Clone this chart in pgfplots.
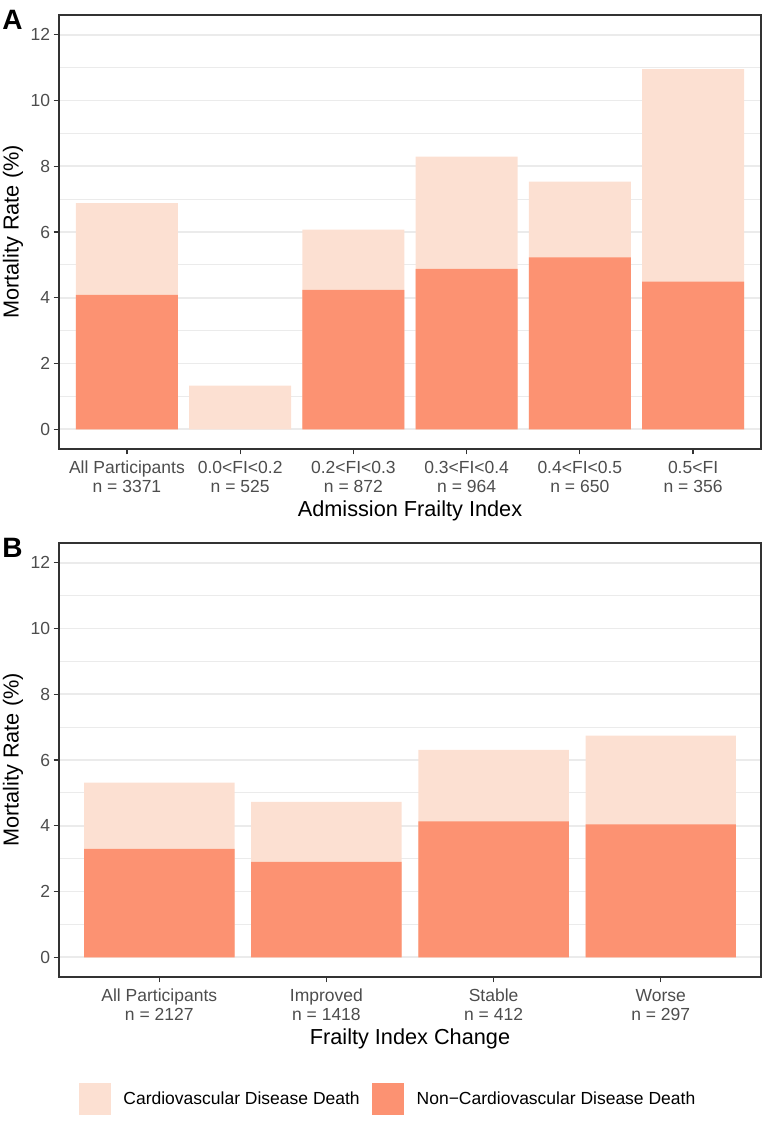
\documentclass[border=0pt]{standalone}
\usepackage{pgfplots}
\pgfplotsset{compat=1.18}
\usepackage{fontspec}
\setmainfont{Liberation Sans}
\definecolor{lightc}{RGB}{252,224,210}
\definecolor{darkc}{RGB}{252,146,114}
\definecolor{gridc}{RGB}{235,235,235}
\definecolor{framec}{RGB}{51,51,51}
\definecolor{tickc}{RGB}{77,77,77}
\pgfplotsset{
  panel/.style={
    scale only axis, width=702pt, height=434pt,
    anchor=south west,
    xmin=-0.6, ymin=-0.6, ymax=12.6,
    axis line style={framec, line width=1.2pt},
    ytick={0,2,...,12}, minor ytick={1,3,...,11},
    ymajorgrids, yminorgrids,
    major grid style={gridc, line width=1.6pt},
    minor grid style={gridc, line width=0.8pt},
    tick align=outside, major tick length=5.4pt, minor tick length=0pt,
    tick style={framec, line width=1.2pt},
    xtick pos=left, ytick pos=left,
    /pgf/number format/assume math mode=true,
    ticklabel style={font=\fontsize{17.5}{18.5}\selectfont, text=tickc},
    xticklabel style={align=center, text height=31.1pt, yshift=-3pt},
    xtick={0,...,5},
    every axis y label/.style={at={(axis description cs:-0.06553,0.5)}, rotate=90, anchor=center, font=\fontsize{21.7}{24}\selectfont, text=black},
    every axis x label/.style={at={(axis description cs:0.5,-0.1417)}, anchor=center, font=\fontsize{21.7}{24}\selectfont, text=black},
    ylabel={Mortality Rate (\%)},
  }
}
\begin{document}
\begin{tikzpicture}
\useasboundingbox (0,0) rectangle (762pt,1127pt);
% Panel A
\begin{axis}[panel, at={(59pt,678pt)}, xmax=5.6,
  xticklabels={{All Participants\\n = 3371},{0.0<FI<0.2\\n = 525},{0.2<FI<0.3\\n = 872},{0.3<FI<0.4\\n = 964},{0.4<FI<0.5\\n = 650},{0.5<FI\\n = 356}},
  xlabel={Admission Frailty Index}]
\addplot[ybar, bar width=0.9, bar shift=0pt, fill=lightc, draw=none, forget plot]
  coordinates {(0,6.88) (1,1.33) (2,6.07) (3,8.29) (4,7.53) (5,10.95)};
\addplot[ybar, bar width=0.9, bar shift=0pt, fill=darkc, draw=none, forget plot]
  coordinates {(0,4.09) (2,4.24) (3,4.88) (4,5.23) (5,4.49)};
\end{axis}
% Panel B
\begin{axis}[panel, at={(59pt,150pt)}, xmax=3.6,
  xtick={0,...,3},
  xticklabels={{All Participants\\n = 2127},{Improved\\n = 1418},{Stable\\n = 412},{Worse\\n = 297}},
  xlabel={Frailty Index Change},
  legend columns=2,
  legend style={at={(axis description cs:0.02849,-0.27995)}, anchor=west,
    draw=none, fill=none, inner sep=0pt, outer sep=0pt,
    font=\fontsize{17.5}{18.5}\selectfont,
    nodes={inner sep=0pt, text=black},
    /tikz/every odd column/.append style={column sep=13pt},
    /tikz/every even column/.append style={column sep=12.5pt}},
  ]
\addplot[ybar, bar width=0.9, bar shift=0pt, fill=lightc, draw=none, forget plot]
  coordinates {(0,5.31) (1,4.73) (2,6.31) (3,6.74)};
\addplot[ybar, bar width=0.9, bar shift=0pt, fill=darkc, draw=none, forget plot]
  coordinates {(0,3.30) (1,2.90) (2,4.13) (3,4.04)};
\addlegendimage{legend image code/.code={\fill[lightc] (0pt,-15.5pt) rectangle (31pt,15.5pt);}}
\addlegendentry{Cardiovascular Disease Death}
\addlegendimage{legend image code/.code={\fill[darkc] (0pt,-15.5pt) rectangle (31pt,15.5pt);}}
\addlegendentry{Non−Cardiovascular Disease Death}
\end{axis}
\node[font=\bfseries\fontsize{28}{30}\selectfont, anchor=center] at (12.5pt,1107pt) {A};
\node[font=\bfseries\fontsize{28}{30}\selectfont, anchor=center] at (12.5pt,579pt) {B};
\end{tikzpicture}
\end{document}
